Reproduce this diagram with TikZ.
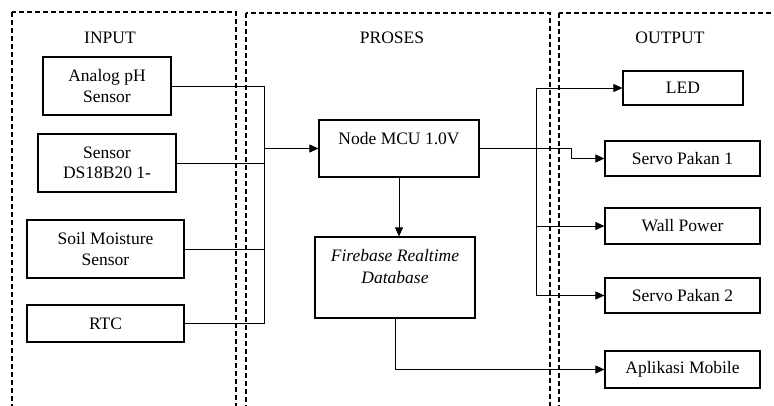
\documentclass[tikz,border=0pt]{standalone}
\usepackage{fontspec}
\setmainfont{Liberation Serif}
\usetikzlibrary{arrows.meta}
\begin{document}
\begin{tikzpicture}[x=1pt,y=-1pt,
  box/.style={draw,line width=1.2pt,inner sep=1pt,align=center,font=\fontsize{17.5}{20.5}\selectfont},
  frame/.style={draw,line width=1.3pt,dash pattern=on 5pt off 3pt},
  title/.style={font=\fontsize{17.5}{20.5}\selectfont},
  conn/.style={line width=0.9pt},
  arr/.style={conn,-{Triangle[length=9pt,width=8pt]}}]
\useasboundingbox (0,0) rectangle (774,405);
\clip (0,0) rectangle (774,405);
\fill[white] (0,0) rectangle (774,405);
% frames
\draw[frame] (12,12) rectangle (236,430);
\draw[frame] (246,13) rectangle (550,430);
\draw[frame] (559,13) rectangle (800,430);
\node[title] (tin) at (110,38) {INPUT};
\node[title] (tpr) at (392,38) {PROSES};
\node[title] (tout) at (670,38) {OUTPUT};
% input boxes
\node[box,minimum width=128,minimum height=58] (ph) at (107,86) {Analog pH\\Sensor};
\node[box,minimum width=138,minimum height=58] (ds) at (107,163) {Sensor\\DS18B20 1-};
\node[box,minimum width=157,minimum height=58] (soil) at (105.5,249) {Soil Moisture\\Sensor};
\node[box,minimum width=157,minimum height=37] (rtc) at (105.5,323.5) {RTC};
% process
\node[box,minimum width=160,minimum height=57] (mcu) at (399,148.5) {Node MCU 1.0V\\\mbox{}};
\node[box,minimum width=160,minimum height=81,font=\fontsize{17.5}{22.5}\selectfont\itshape] (fb) at (395,277.5) {Firebase Realtime\\Database\\\mbox{}};
% outputs
\node[box,minimum width=120,minimum height=34] (led) at (683,88) {LED};
\node[box,minimum width=155,minimum height=35] (sp1) at (682.5,158.5) {Servo Pakan 1};
\node[box,minimum width=155,minimum height=36] (wp) at (682.5,226) {Wall Power};
\node[box,minimum width=155,minimum height=35] (sp2) at (682.5,295.5) {Servo Pakan 2};
\node[box,minimum width=155,minimum height=37] (app) at (682.5,369.5) {Aplikasi Mobile};
% input bus
\coordinate (bus) at (264,148.5);
\draw[conn] (ph.east) -- (ph.east -| bus);
\draw[conn] (ds.east) -- (ds.east -| bus);
\draw[conn] (soil.east) -- (soil.east -| bus);
\draw[conn] (rtc.east) -- (rtc.east -| bus);
\draw[conn] (ph.east -| bus) -- (rtc.east -| bus);
\draw[arr] (bus) -- (mcu.west);
% process
\draw[arr] (mcu.south) -- (mcu.south |- fb.north);
\draw[arr] (fb.south) |- (app.west);
% output bus
\coordinate (ob) at (536,148.5);
\coordinate (kink) at (571,148.5);
\draw[conn] (mcu.east) -- (ob);
\draw[conn] (ob |- led.west) -- (ob |- sp2.west);
\draw[arr] (ob |- led.west) -- (led.west);
\draw[arr] (ob) -- (kink) |- (sp1.west);
\draw[arr] (ob |- wp.west) -- (wp.west);
\draw[arr] (ob |- sp2.west) -- (sp2.west);
\end{tikzpicture}
\end{document}
